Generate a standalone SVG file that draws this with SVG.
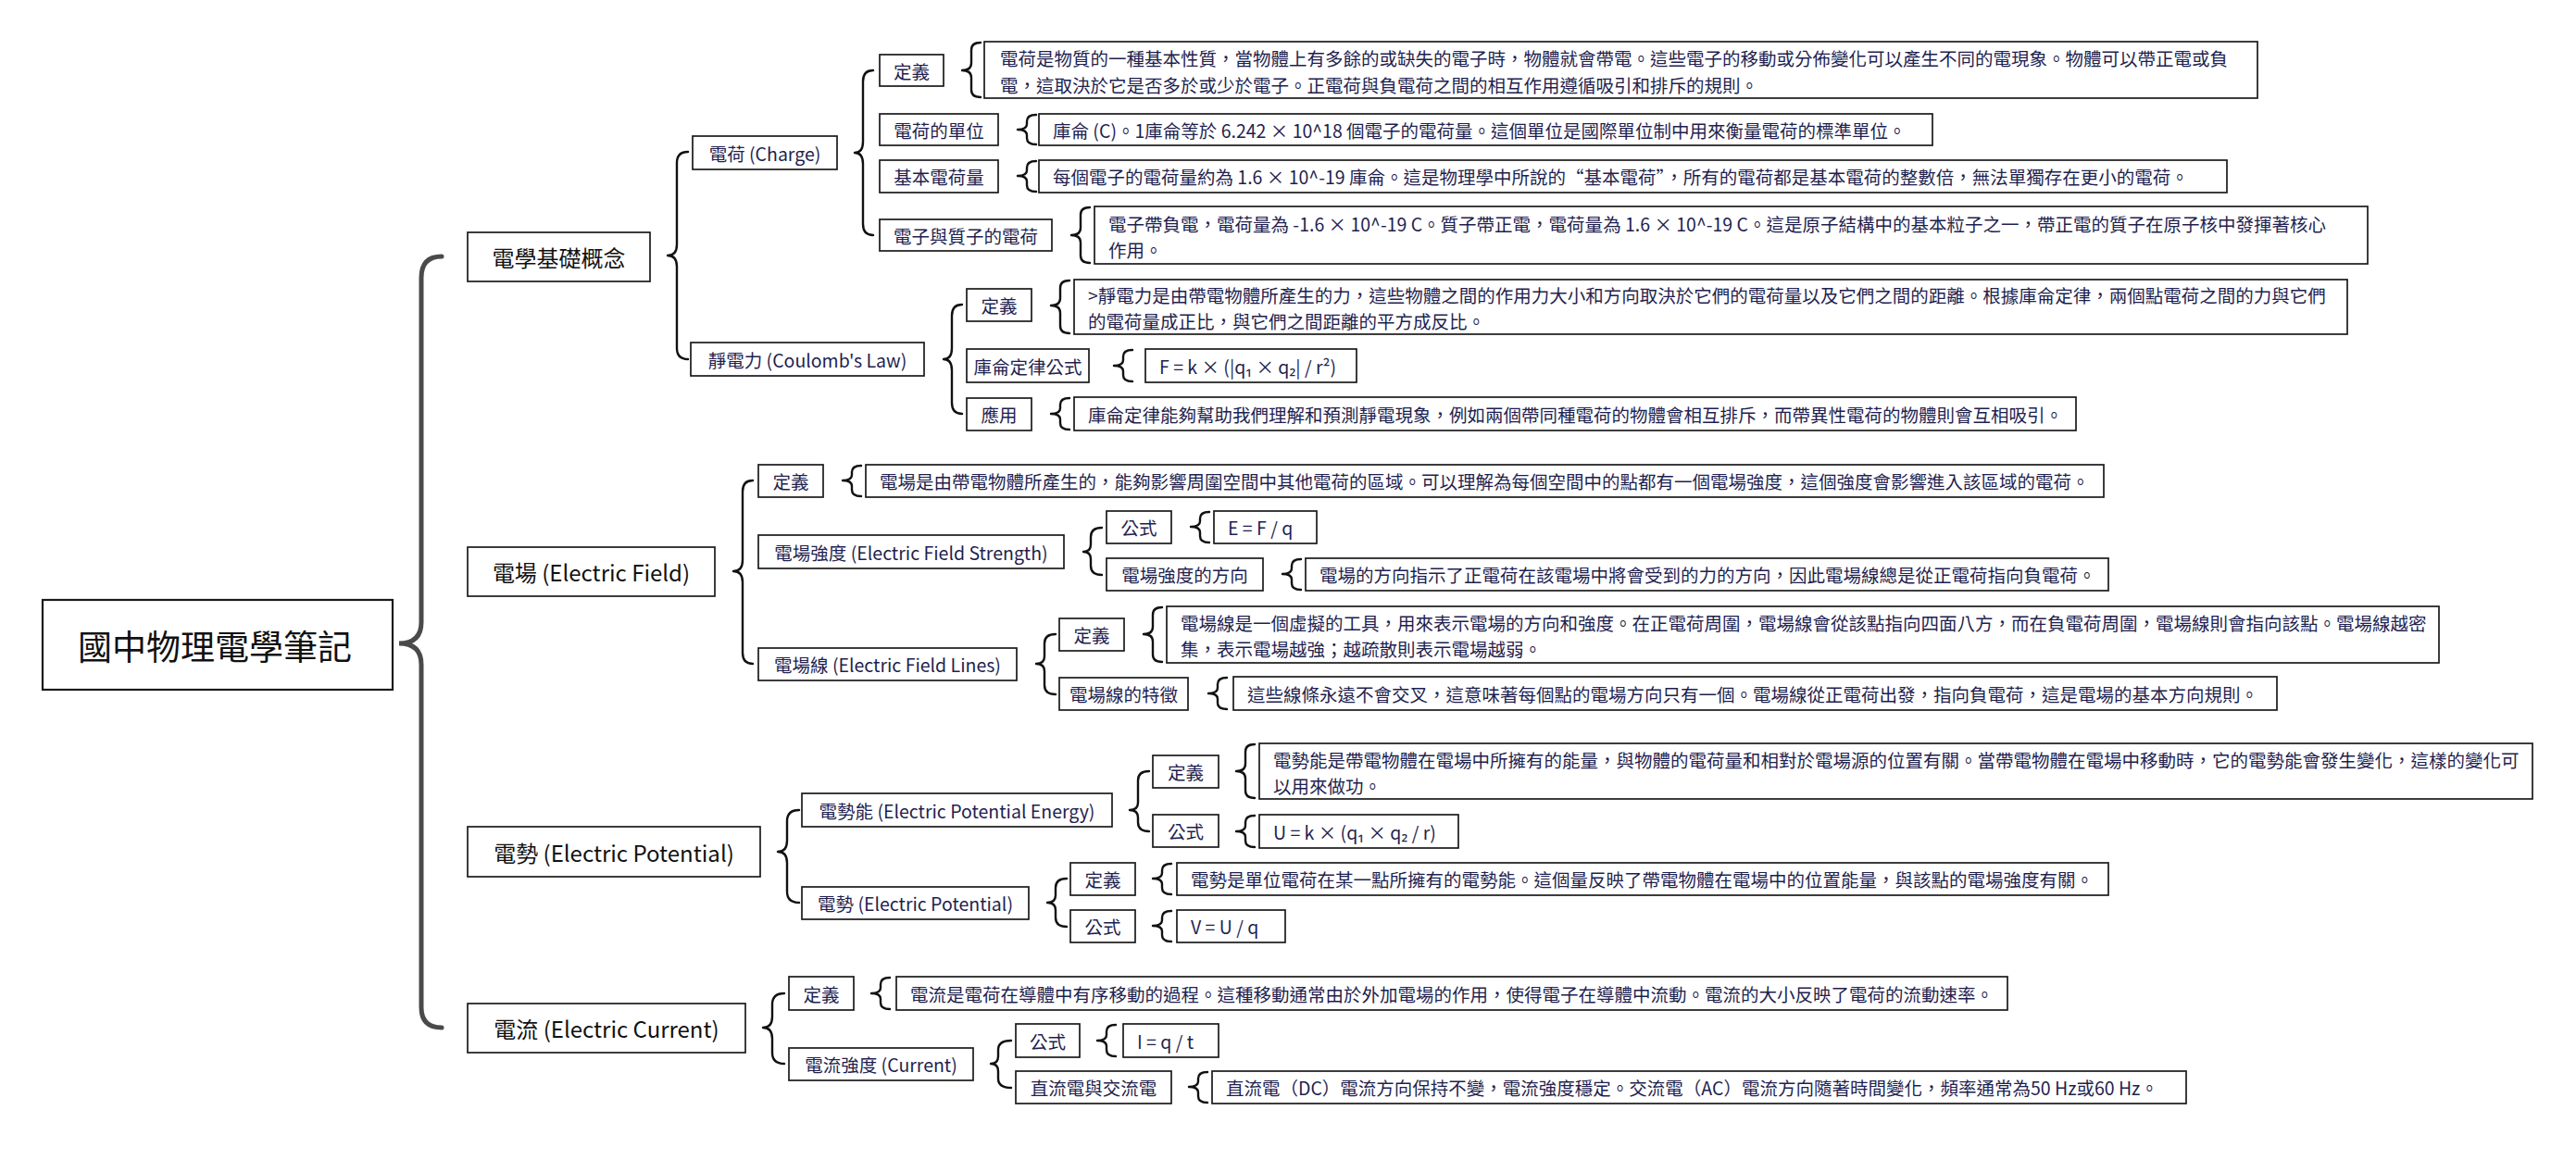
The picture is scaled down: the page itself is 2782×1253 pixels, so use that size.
<svg xmlns="http://www.w3.org/2000/svg" width="2782" height="1253" viewBox="0 0 2782 1253">
<style>
text{font-family:"Noto Sans CJK TC","Noto Sans CJK SC","Noto Sans",sans-serif;dominant-baseline:central}
.box{fill:#fff;stroke:#1a1a1a;stroke-width:1.7}
.box0{fill:#fff;stroke:#1a1a1a;stroke-width:2.2}
.t0{font-size:37px;fill:#111;text-anchor:middle}
.t1{font-size:24px;fill:#111;text-anchor:middle}
.t2{font-size:19.5px;fill:#1f1f4f;text-anchor:middle}
.tx{font-size:19.5px;fill:#1f1f4f}
.br{fill:none;stroke:#111;stroke-width:2.4;stroke-linecap:round;stroke-linejoin:round}
.brr{fill:none;stroke:#4a4a4a;stroke-width:5;stroke-linecap:round}
</style>
<rect width="2782" height="1253" fill="#fff"/>
<g id="connectors">
<path class="brr" d="M477,277 Q455,277 455,300 L455,672 Q455,695 431,695 Q455,695 455,718 L455,1088 Q455,1110 477,1110"/>
<path class="br" d="M743,164 Q731,164 731,176 L731,264 Q731,276 721,276 Q731,276 731,288 L731,376 Q731,388 743,388"/>
<path class="br" d="M813,519 Q802,519 802,531 L802,605 Q802,617 792,617 Q802,617 802,629 L802,705 Q802,717 813,717"/>
<path class="br" d="M863,875 Q850,875 850,887 L850,908 Q850,920 840,920 Q850,920 850,932 L850,963 Q850,975 863,975"/>
<path class="br" d="M847,1073 Q834,1073 834,1085 L834,1098 Q834,1110 824,1110 Q834,1110 834,1122 L834,1137 Q834,1149 847,1149"/>
<path class="br" d="M943,76 Q932,76 932,88 L932,153 Q932,165 923,165 Q932,165 932,177 L932,242 Q932,254 943,254"/>
<path class="br" d="M1039,329 Q1028,329 1028,341 L1028,376 Q1028,388 1019,388 Q1028,388 1028,400 L1028,435 Q1028,447 1039,447"/>
<path class="br" d="M1190,570 Q1178,570 1178,580 L1178,588 Q1178,596 1170,596 Q1178,596 1178,604 L1178,611 Q1178,621 1190,621"/>
<path class="br" d="M1140,685 Q1128,685 1128,695 L1128,709 Q1128,717 1119,717 Q1128,717 1128,725 L1128,740 Q1128,750 1140,750"/>
<path class="br" d="M1241,833 Q1229,833 1229,843 L1229,867 Q1229,875 1220,875 Q1229,875 1229,883 L1229,888 Q1229,898 1241,898"/>
<path class="br" d="M1152,949 Q1140,949 1140,959 L1140,967 Q1140,975 1131,975 Q1140,975 1140,983 L1140,991 Q1140,1001 1152,1001"/>
<path class="br" d="M1092,1124 Q1078,1124 1078,1134 L1078,1141 Q1078,1149 1070,1149 Q1078,1149 1078,1157 L1078,1165 Q1078,1175 1092,1175"/>
<path class="br" d="M1059,46 Q1049,46 1049,54 L1049,68 Q1049,76 1039,76 Q1049,76 1049,84 L1049,97 Q1049,105 1059,105"/>
<path class="br" d="M1119,124 Q1109,124 1109,131 L1109,134 Q1109,140 1099,140 Q1109,140 1109,146 L1109,149 Q1109,156 1119,156"/>
<path class="br" d="M1119,174 Q1109,174 1109,181 L1109,184 Q1109,190 1099,190 Q1109,190 1109,196 L1109,200 Q1109,207 1119,207"/>
<path class="br" d="M1177,224 Q1167,224 1167,232 L1167,246 Q1167,254 1157,254 Q1167,254 1167,262 L1167,276 Q1167,284 1177,284"/>
<path class="br" d="M1155,303 Q1145,303 1145,311 L1145,322 Q1145,330 1135,330 Q1145,330 1145,338 L1145,352 Q1145,360 1155,360"/>
<path class="br" d="M1223,378 Q1213,378 1213,385 L1213,389 Q1213,395 1203,395 Q1213,395 1213,401 L1213,405 Q1213,412 1223,412"/>
<path class="br" d="M1155,430 Q1145,430 1145,437 L1145,441 Q1145,447 1135,447 Q1145,447 1145,453 L1145,457 Q1145,464 1155,464"/>
<path class="br" d="M930,503 Q920,503 920,510 L920,513 Q920,519 910,519 Q920,519 920,525 L920,529 Q920,536 930,536"/>
<path class="br" d="M1306,553 Q1296,553 1296,560 L1296,563 Q1296,569 1286,569 Q1296,569 1296,575 L1296,579 Q1296,586 1306,586"/>
<path class="br" d="M1405,604 Q1395,604 1395,611 L1395,614 Q1395,620 1385,620 Q1395,620 1395,626 L1395,630 Q1395,637 1405,637"/>
<path class="br" d="M1255,656 Q1245,656 1245,664 L1245,677 Q1245,685 1235,685 Q1245,685 1245,693 L1245,707 Q1245,715 1255,715"/>
<path class="br" d="M1325,732 Q1315,732 1315,739 L1315,743 Q1315,749 1305,749 Q1315,749 1315,755 L1315,759 Q1315,766 1325,766"/>
<path class="br" d="M1355,804 Q1345,804 1345,812 L1345,825 Q1345,833 1335,833 Q1345,833 1345,841 L1345,854 Q1345,862 1355,862"/>
<path class="br" d="M1355,881 Q1345,881 1345,888 L1345,892 Q1345,898 1335,898 Q1345,898 1345,904 L1345,908 Q1345,915 1355,915"/>
<path class="br" d="M1265,933 Q1255,933 1255,940 L1255,943 Q1255,949 1245,949 Q1255,949 1255,955 L1255,959 Q1255,966 1265,966"/>
<path class="br" d="M1265,984 Q1255,984 1255,991 L1255,994 Q1255,1000 1245,1000 Q1255,1000 1255,1006 L1255,1010 Q1255,1017 1265,1017"/>
<path class="br" d="M961,1056 Q951,1056 951,1063 L951,1067 Q951,1073 941,1073 Q951,1073 951,1079 L951,1083 Q951,1090 961,1090"/>
<path class="br" d="M1205,1107 Q1195,1107 1195,1114 L1195,1118 Q1195,1124 1185,1124 Q1195,1124 1195,1130 L1195,1134 Q1195,1141 1205,1141"/>
<path class="br" d="M1304,1158 Q1294,1158 1294,1165 L1294,1168 Q1294,1174 1284,1174 Q1294,1174 1294,1180 L1294,1184 Q1294,1191 1304,1191"/>
</g>
<g id="root"><rect class="box0" x="46" y="648" width="378" height="97"/><text class="t0" x="232" y="697">國中物理電學筆記</text></g>
<g id="n1"><rect class="box" x="505" y="251" width="197" height="53"/><text class="t1" x="603.5" y="277.5">電學基礎概念</text></g>
<g id="n2"><rect class="box" x="505" y="591" width="267" height="53"/><text class="t1" x="638.5" y="617.5">電場 (Electric Field)</text></g>
<g id="n3"><rect class="box" x="505" y="893" width="316" height="54"/><text class="t1" x="663" y="920">電勢 (Electric Potential)</text></g>
<g id="n4"><rect class="box" x="505" y="1084" width="300" height="53"/><text class="t1" x="655" y="1110.5">電流 (Electric Current)</text></g>
<g id="n1a"><rect class="box" x="748" y="147" width="156" height="36"/><text class="t2" x="826" y="165">電荷 (Charge)</text></g>
<g id="n1b"><rect class="box" x="746" y="370" width="252" height="36"/><text class="t2" x="872" y="388">靜電力 (Coulomb's Law)</text></g>
<g id="n2a"><rect class="box" x="819" y="502" width="70" height="35"/><text class="t2" x="854" y="519.5">定義</text></g>
<g id="n2b"><rect class="box" x="819" y="578" width="330" height="36"/><text class="t2" x="984" y="596">電場強度 (Electric Field Strength)</text></g>
<g id="n2c"><rect class="box" x="819" y="700" width="279" height="35"/><text class="t2" x="958.5" y="717.5">電場線 (Electric Field Lines)</text></g>
<g id="n3a"><rect class="box" x="866" y="857" width="335" height="36"/><text class="t2" x="1033.5" y="875">電勢能 (Electric Potential Energy)</text></g>
<g id="n3b"><rect class="box" x="866" y="958" width="245" height="35"/><text class="t2" x="988.5" y="975.5">電勢 (Electric Potential)</text></g>
<g id="n4a"><rect class="box" x="852" y="1055" width="70" height="36"/><text class="t2" x="887" y="1073">定義</text></g>
<g id="n4b"><rect class="box" x="852" y="1132" width="199" height="35"/><text class="t2" x="951.5" y="1149.5">電流強度 (Current)</text></g>
<g id="n1a1"><rect class="box" x="950" y="59" width="69" height="34"/><text class="t2" x="984.5" y="76">定義</text></g>
<g id="n1a2"><rect class="box" x="950" y="123" width="128" height="34"/><text class="t2" x="1014" y="140">電荷的單位</text></g>
<g id="n1a3"><rect class="box" x="950" y="173" width="128" height="35"/><text class="t2" x="1014" y="190.5">基本電荷量</text></g>
<g id="n1a4"><rect class="box" x="950" y="237" width="186" height="34"/><text class="t2" x="1043" y="254">電子與質子的電荷</text></g>
<g id="n1b1"><rect class="box" x="1044" y="312" width="70" height="35"/><text class="t2" x="1079" y="329.5">定義</text></g>
<g id="n1b2"><rect class="box" x="1044" y="377" width="132" height="36"/><text class="t2" x="1110" y="395">庫侖定律公式</text></g>
<g id="n1b3"><rect class="box" x="1044" y="430" width="70" height="35"/><text class="t2" x="1079" y="447.5">應用</text></g>
<g id="n2b1"><rect class="box" x="1195" y="552" width="70" height="35"/><text class="t2" x="1230" y="569.5">公式</text></g>
<g id="n2b2"><rect class="box" x="1195" y="603" width="169" height="35"/><text class="t2" x="1279.5" y="620.5">電場強度的方向</text></g>
<g id="n2c1"><rect class="box" x="1144" y="668" width="70" height="35"/><text class="t2" x="1179" y="685.5">定義</text></g>
<g id="n2c2"><rect class="box" x="1144" y="732" width="139" height="35"/><text class="t2" x="1213.5" y="749.5">電場線的特徵</text></g>
<g id="n3a1"><rect class="box" x="1245" y="816" width="71" height="35"/><text class="t2" x="1280.5" y="833.5">定義</text></g>
<g id="n3a2"><rect class="box" x="1245" y="880" width="71" height="35"/><text class="t2" x="1280.5" y="897.5">公式</text></g>
<g id="n3b1"><rect class="box" x="1156" y="932" width="70" height="35"/><text class="t2" x="1191" y="949.5">定義</text></g>
<g id="n3b2"><rect class="box" x="1156" y="983" width="70" height="35"/><text class="t2" x="1191" y="1000.5">公式</text></g>
<g id="n4b1"><rect class="box" x="1097" y="1106" width="69" height="36"/><text class="t2" x="1131.5" y="1124">公式</text></g>
<g id="n4b2"><rect class="box" x="1097" y="1157" width="168" height="35"/><text class="t2" x="1181" y="1174.5">直流電與交流電</text></g>
<g id="d1"><rect class="box" x="1063" y="45" width="1375" height="61"/><text class="tx" x="1080" y="62.5">電荷是物質的一種基本性質，當物體上有多餘的或缺失的電子時，物體就會帶電。這些電子的移動或分佈變化可以產生不同的電現象。物體可以帶正電或負</text><text class="tx" x="1080" y="91">電，這取決於它是否多於或少於電子。正電荷與負電荷之間的相互作用遵循吸引和排斥的規則。</text></g>
<g id="d2"><rect class="box" x="1122" y="123" width="965" height="34"/><text class="tx" x="1137" y="140">庫侖 (C)。1庫侖等於 6.242 × 10^18 個電子的電荷量。這個單位是國際單位制中用來衡量電荷的標準單位。</text></g>
<g id="d3"><rect class="box" x="1122" y="173" width="1283" height="35"/><text class="tx" x="1137" y="190.5">每個電子的電荷量約為 1.6 × 10^-19 庫侖。這是物理學中所說的“基本電荷”，所有的電荷都是基本電荷的整數倍，無法單獨存在更小的電荷。</text></g>
<g id="d4"><rect class="box" x="1182" y="223" width="1375" height="62"/><text class="tx" x="1197" y="241">電子帶負電，電荷量為 -1.6 × 10^-19 C。質子帶正電，電荷量為 1.6 × 10^-19 C。這是原子結構中的基本粒子之一，帶正電的質子在原子核中發揮著核心</text><text class="tx" x="1197" y="269">作用。</text></g>
<g id="d5"><rect class="box" x="1160" y="302" width="1375" height="59"/><text class="tx" x="1175" y="318">&gt;靜電力是由帶電物體所產生的力，這些物體之間的作用力大小和方向取決於它們的電荷量以及它們之間的距離。根據庫侖定律，兩個點電荷之間的力與它們</text><text class="tx" x="1175" y="346">的電荷量成正比，與它們之間距離的平方成反比。</text></g>
<g id="d6"><rect class="box" x="1237" y="377" width="228" height="36"/><text class="tx" x="1252" y="395">F = k × (|q₁ × q₂| / r²)</text></g>
<g id="d7"><rect class="box" x="1160" y="429" width="1082" height="36"/><text class="tx" x="1175" y="447">庫侖定律能夠幫助我們理解和預測靜電現象，例如兩個帶同種電荷的物體會相互排斥，而帶異性電荷的物體則會互相吸引。</text></g>
<g id="d8"><rect class="box" x="935" y="502" width="1337" height="35"/><text class="tx" x="950" y="519.5">電場是由帶電物體所產生的，能夠影響周圍空間中其他電荷的區域。可以理解為每個空間中的點都有一個電場強度，這個強度會影響進入該區域的電荷。</text></g>
<g id="d9"><rect class="box" x="1311" y="552" width="111" height="35"/><text class="tx" x="1326" y="569.5">E = F / q</text></g>
<g id="d10"><rect class="box" x="1410" y="603" width="867" height="35"/><text class="tx" x="1425" y="620.5">電場的方向指示了正電荷在該電場中將會受到的力的方向，因此電場線總是從正電荷指向負電荷。</text></g>
<g id="d11"><rect class="box" x="1260" y="655" width="1374" height="61"/><text class="tx" x="1275" y="672">電場線是一個虛擬的工具，用來表示電場的方向和強度。在正電荷周圍，電場線會從該點指向四面八方，而在負電荷周圍，電場線則會指向該點。電場線越密</text><text class="tx" x="1275" y="700">集，表示電場越強；越疏散則表示電場越弱。</text></g>
<g id="d12"><rect class="box" x="1332" y="731" width="1127" height="36"/><text class="tx" x="1347" y="749">這些線條永遠不會交叉，這意味著每個點的電場方向只有一個。電場線從正電荷出發，指向負電荷，這是電場的基本方向規則。</text></g>
<g id="d13"><rect class="box" x="1360" y="803" width="1375" height="60"/><text class="tx" x="1375" y="820">電勢能是帶電物體在電場中所擁有的能量，與物體的電荷量和相對於電場源的位置有關。當帶電物體在電場中移動時，它的電勢能會發生變化，這樣的變化可</text><text class="tx" x="1375" y="848">以用來做功。</text></g>
<g id="d14"><rect class="box" x="1360" y="880" width="215" height="36"/><text class="tx" x="1375" y="898">U = k × (q₁ × q₂ / r)</text></g>
<g id="d15"><rect class="box" x="1271" y="932" width="1006" height="35"/><text class="tx" x="1286" y="949.5">電勢是單位電荷在某一點所擁有的電勢能。這個量反映了帶電物體在電場中的位置能量，與該點的電場強度有關。</text></g>
<g id="d16"><rect class="box" x="1271" y="983" width="117" height="35"/><text class="tx" x="1286" y="1000.5">V = U / q</text></g>
<g id="d17"><rect class="box" x="968" y="1055" width="1200" height="36"/><text class="tx" x="983" y="1073">電流是電荷在導體中有序移動的過程。這種移動通常由於外加電場的作用，使得電子在導體中流動。電流的大小反映了電荷的流動速率。</text></g>
<g id="d18"><rect class="box" x="1213" y="1106" width="103" height="36"/><text class="tx" x="1228" y="1124">I = q / t</text></g>
<g id="d19"><rect class="box" x="1309" y="1157" width="1052" height="35"/><text class="tx" x="1324" y="1174.5">直流電（DC）電流方向保持不變，電流強度穩定。交流電（AC）電流方向隨著時間變化，頻率通常為50 Hz或60 Hz。</text></g>
</svg>
